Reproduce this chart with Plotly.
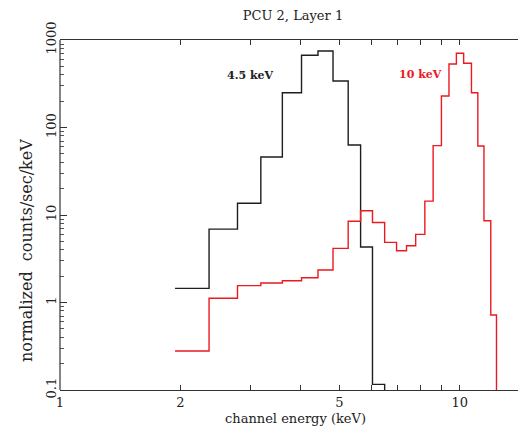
import plotly.graph_objects as go
import math

# Bin edges (keV) shared by both spectra
bin_edges = [1.94, 2.36, 2.78, 3.18, 3.60, 4.02, 4.42, 4.82, 5.26, 5.65, 6.05, 6.49,
             6.95, 7.36, 7.76, 8.18, 8.58, 9.00, 9.40, 9.81, 10.23, 10.70, 11.10,
             11.50, 11.96, 12.36]

# 4.5 keV spectrum (first 11 bins)
counts_45 = [1.45, 6.9, 13.6, 46, 250, 670, 750, 340, 63, 4.3, 0.116]
# 10 keV spectrum (25 bins)
counts_10 = [0.279, 1.12, 1.56, 1.67, 1.77, 1.92, 2.35, 4.16, 8.5, 11.2, 8.2,
             4.87, 3.91, 4.46, 6.0, 14.4, 62, 229, 532, 705, 542, 250, 61.5, 8.6, 0.72]

x_tick_vals = [1, 2, 3, 4, 5, 6, 7, 8, 9, 10]
x_tick_text = ["1", "2", "", "", "5", "", "", "", "", "10"]
y_major = [0.1, 1, 10, 100, 1000]
y_major_text = ["0.1", "1", "10", "100", "1000"]
FLOOR = 1e-3  # drop to baseline below visible range


def step_xy(values):
    n = len(values)
    xs = bin_edges[:n + 1] + [bin_edges[n]]
    ys = list(values) + [values[-1], FLOOR]
    return xs, ys


# The page body has an 8px default margin; the figure is sized to fill the rest.
OFF = 8
W, H = 526 - OFF, 426 - OFF
L, T, B = 60 - OFF, 40 - OFF, 36
PW, PH = W - L, H - T - B  # 466 x 350

fig = go.Figure()
x1, y1 = step_xy(counts_45)
fig.add_trace(go.Scatter(x=x1, y=y1, mode="lines", line=dict(color="#1e1e1e", width=1.4, shape="hv"),
                         showlegend=False))
x2, y2 = step_xy(counts_10)
fig.add_trace(go.Scatter(x=x2, y=y2, mode="lines", line=dict(color="#ea1a1f", width=1.4, shape="hv"),
                         showlegend=False))

FONT = "DejaVu Serif"
fig.update_layout(
    width=W, height=H,
    margin=dict(l=L, r=0, t=T, b=B, autoexpand=False),
    paper_bgcolor="white", plot_bgcolor="white",
    font=dict(family=FONT, size=13, color="#222"),
    title=dict(text="PCU 2, Layer 1", x=(293 - OFF) / W, xanchor="center",
               y=1 - (15 - OFF) / H, yanchor="middle",
               font=dict(family=FONT, size=13, color="#222")),
    showlegend=False,
)


def px_x(px):
    return (px - 60) / PW


def px_y(py):
    return (390 - py) / PH


fig.update_xaxes(
    type="log", range=[0, math.log10(14.65)], automargin=False,
    tickvals=x_tick_vals, ticktext=x_tick_text,
    ticks="inside", ticklen=5, tickwidth=1, tickcolor="#333",
    showline=True, linecolor="#333", linewidth=1.2, mirror="ticks",
    showgrid=False, zeroline=False,
    tickfont=dict(family=FONT, size=13, color="#222"),
)
fig.update_yaxes(
    type="log", range=[-1, 3], automargin=False,
    tickvals=y_major, ticktext=y_major_text, tickangle=-90,
    ticks="inside", ticklen=7, tickwidth=1, tickcolor="#333",
    minor=dict(ticks="inside", ticklen=4, tickcolor="#555", dtick="D1", showgrid=False),
    showline=False, mirror="ticks",
    showgrid=False, zeroline=False,
    tickfont=dict(family=FONT, size=13, color="#222"),
)
# left spine (no right spine visible in the reference)
fig.add_shape(type="line", xref="paper", yref="paper", x0=0, x1=0, y0=0, y1=1,
              line=dict(color="#333", width=1.2))

fig.add_annotation(text="normalized  counts/sec/keV", xref="paper", yref="paper",
                   x=px_x(26), y=px_y(251), textangle=-90, showarrow=False,
                   xanchor="center", yanchor="middle",
                   font=dict(family=FONT, size=16, color="#222"))
fig.add_annotation(text="channel energy (keV)", xref="paper", yref="paper",
                   x=px_x(295), y=px_y(418), showarrow=False,
                   xanchor="center", yanchor="middle",
                   font=dict(family=FONT, size=13, color="#222"))
fig.add_annotation(text="<b>4.5 keV</b>", xref="paper", yref="paper",
                   x=px_x(250), y=px_y(75), showarrow=False,
                   xanchor="center", yanchor="middle",
                   font=dict(family=FONT, size=11, color="#222"))
fig.add_annotation(text="<b>10 keV</b>", xref="paper", yref="paper",
                   x=px_x(420), y=px_y(74), showarrow=False,
                   xanchor="center", yanchor="middle",
                   font=dict(family=FONT, size=11, color="#ea1a1f"))

fig.write_html("out.html")
